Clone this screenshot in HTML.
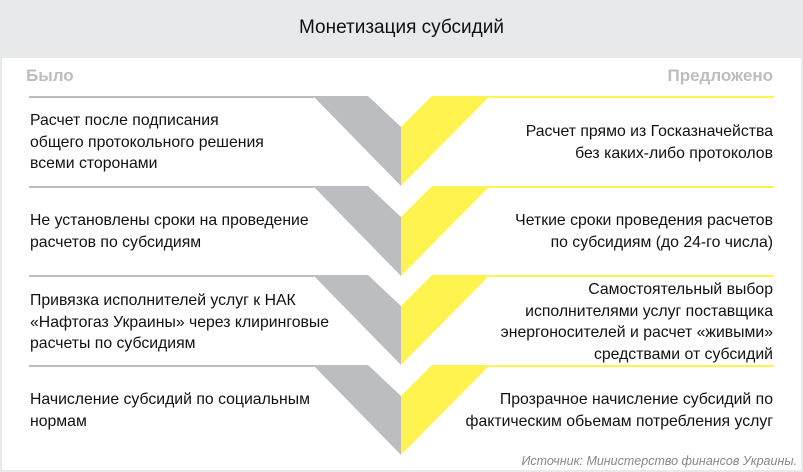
<!DOCTYPE html>
<html><head><meta charset="utf-8"><style>
body{margin:0;width:803px;height:472px;background:#e8e9ea;position:relative;overflow:hidden;font-family:"Liberation Sans",sans-serif;}
#w{position:absolute;left:2px;top:58px;width:799px;height:412px;background:#fff;}
.t{position:absolute;font-size:15.8px;line-height:21.5px;color:#111;letter-spacing:0}
.l{left:30px}.r{right:30px;text-align:right}
</style></head><body>
<div style="position:absolute;left:0;top:0;width:803px;height:58px;line-height:56px;text-align:center;font-size:19px;color:#111">Монетизация субсидий</div>
<div id="w"></div>
<div style="position:absolute;left:26px;top:66px;font-size:17px;font-weight:bold;color:#bcbdc0">Было</div>
<div style="position:absolute;right:30px;top:66px;font-size:17px;font-weight:bold;color:#bcbdc0">Предложено</div>
<svg style="position:absolute;left:0;top:0" width="803" height="472">
<g id="row">
<rect x="29" y="96" width="285" height="2" fill="#bcbdc0"/>
<rect x="489" y="96" width="285" height="2" fill="#fff34f"/>
<polygon points="313,96 368,96 401,127 401,186" fill="#bcbdc0"/>
<polygon points="401,127 432,96 490,96 401,186" fill="#fff34f"/>
</g>
<use href="#row" y="90"/>
<use href="#row" y="179"/>
<use href="#row" y="269"/>
</svg>
<div class="t l" style="top:110px">Расчет после подписания<br>общего протокольного решения<br>всеми сторонами</div>
<div class="t r" style="top:121px">Расчет прямо из Госказначейства<br>без каких-либо протоколов</div>
<div class="t l" style="top:210px">Не установлены сроки на проведение<br>расчетов по субсидиям</div>
<div class="t r" style="top:210px">Четкие сроки проведения расчетов<br>по субсидиям (до 24-го числа)</div>
<div class="t l" style="top:290px">Привязка исполнителей услуг к НАК<br>«Нафтогаз Украины» через клиринговые<br>расчеты по субсидиям</div>
<div class="t r" style="top:279px">Самостоятельный выбор<br>исполнителями услуг поставщика<br>энергоносителей и расчет «живыми»<br>средствами от субсидий</div>
<div class="t l" style="top:389px">Начисление субсидий по социальным<br>нормам</div>
<div class="t r" style="top:389px">Прозрачное начисление субсидий по<br>фактическим обьемам потребления услуг</div>
<div style="position:absolute;right:6px;top:454px;font-size:12.5px;font-style:italic;color:#888">Источник: Министерство финансов Украины.</div>
</body></html>
